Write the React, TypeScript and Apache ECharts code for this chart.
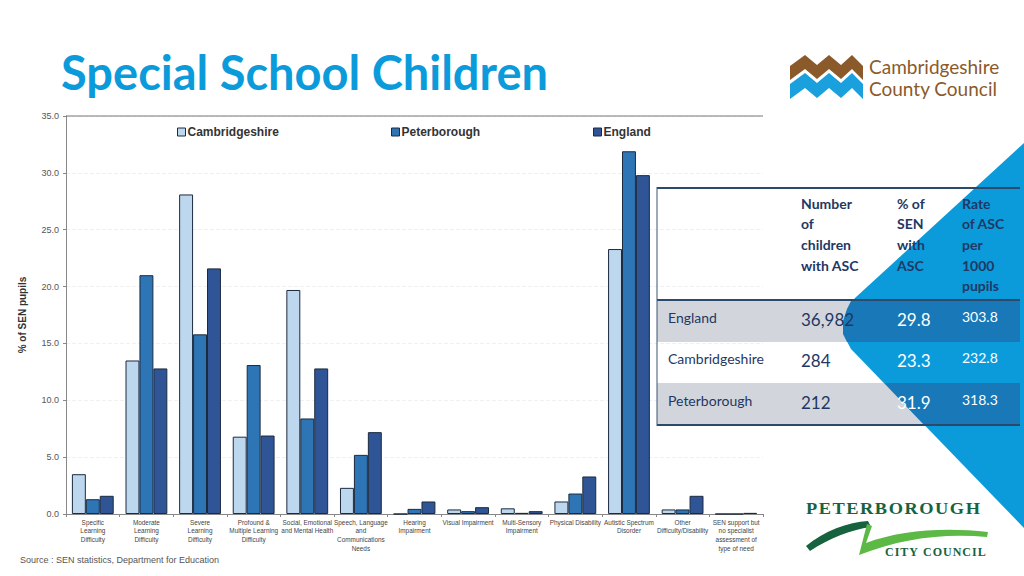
import React, { useEffect, useRef } from "react";
import * as echarts from "echarts";

const categories = [
  "Specific\nLearning\nDifficulty",
  "Moderate\nLearning\nDifficulty",
  "Severe\nLearning\nDifficulty",
  "Profound &\nMultiple Learning\nDifficulty",
  "Social, Emotional\nand Mental Health",
  "Speech, Language\nand\nCommunications\nNeeds",
  "Hearing\nImpairment",
  "Visual Impairment",
  "Multi-Sensory\nImpairment",
  "Physical Disability",
  "Autistic Spectrum\nDisorder",
  "Other\nDifficulty/Disability",
  "SEN support but\nno specialist\nassessment of\ntype of need",
];
const cambridgeshire = [3.5, 13.5, 28.1, 6.8, 19.7, 2.3, 0, 0.4, 0.5, 1.1, 23.3, 0.4, 0];
const peterborough = [1.3, 21.0, 15.8, 13.1, 8.4, 5.2, 0.45, 0.25, 0.1, 1.8, 31.9, 0.4, 0];
const england = [1.6, 12.8, 21.6, 6.9, 12.8, 7.2, 1.1, 0.6, 0.25, 3.3, 29.8, 1.6, 0.1];
const seriesNames = ["Cambridgeshire", "Peterborough", "England"];

const tableHeaders = [
  ["Number", "of", "children", "with ASC"],
  ["% of", "SEN", "with", "ASC"],
  ["Rate", "of ASC", "per", "1000", "pupils"],
];
const tableRows = ["England", "Cambridgeshire", "Peterborough"];
const tableNumbers = ["36,982", "284", "212"];
const tablePercents = ["29.8", "23.3", "31.9"];
const tableRates = ["303.8", "232.8", "318.3"];

const SANS = '"Liberation Sans", Arial, sans-serif';
const CAL = 'Lato, "Open Sans", sans-serif';
const SERIF = '"Liberation Serif", "DejaVu Serif", serif';
const NAVY = "#1f3864";

echarts.graphic.registerShape(
  "swooshDark",
  echarts.graphic.extendPath(
    "M806,546 C824,531 848,522 868,521 L871,527 C850,530 830,538 810,551 Z",
    {}
  )
);
echarts.graphic.registerShape(
  "swooshLight",
  echarts.graphic.extendPath(
    "M867,524 L872,526 L866,543 C900,530 945,527 988,532 L987,537 C945,533 902,538 859,555 Z",
    {}
  )
);

function text(x: number, y: number, t: string, font: string, fill: string, align = "left", extra: any = {}) {
  return {
    type: "text",
    z: 20,
    style: {
      x,
      y,
      text: t,
      font,
      fill,
      textAlign: align,
      align,
      textVerticalAlign: "middle",
      verticalAlign: "middle",
    },
    ...extra,
  };
}

function spaced(s: string, sep: string) {
  return s.split("").join(sep);
}

export default function App() {
  const ref = useRef<HTMLDivElement>(null);
  useEffect(() => {
    if (!ref.current) return;
    const chart = echarts.init(ref.current, undefined, { renderer: "svg" });

    const graphics: any[] = [];
    // Blue decorative shape
    graphics.push({
      type: "polygon",
      z: 1,
      shape: {
        points: [
          [1024, 143], [855, 298], [847, 309], [843, 321], [843, 334], [851, 349], [1024, 528],
        ],
      },
      style: { fill: "#0b9bdb" },
    });
    // gray rows
    graphics.push({ type: "rect", z: 2, shape: { x: 657, y: 301, width: 363, height: 41 }, style: { fill: "#d2d6dc" } });
    graphics.push({ type: "rect", z: 2, shape: { x: 657, y: 383, width: 363, height: 42 }, style: { fill: "#d2d6dc" } });
    // darker intersections
    graphics.push({
      type: "polygon",
      z: 3,
      shape: { points: [[851, 301], [847, 309], [843, 321], [843, 334], [847, 342], [1020, 342], [1020, 301]] },
      style: { fill: "#1878b8" },
    });
    graphics.push({
      type: "polygon",
      z: 3,
      shape: { points: [[884, 383], [924, 425], [1020, 425], [1020, 383]] },
      style: { fill: "#1878b8" },
    });
    // table lines
    const lineStyle = { stroke: "#2b4a6b", lineWidth: 2 };
    graphics.push({ type: "line", z: 4, shape: { x1: 657, y1: 188, x2: 1020, y2: 188 }, style: lineStyle });
    graphics.push({ type: "line", z: 4, shape: { x1: 657, y1: 300, x2: 1020, y2: 300 }, style: lineStyle });
    graphics.push({ type: "line", z: 4, shape: { x1: 657, y1: 425, x2: 1020, y2: 425 }, style: lineStyle });
    graphics.push({ type: "line", z: 4, shape: { x1: 657, y1: 187, x2: 657, y2: 426 }, style: { stroke: "#3a5572", lineWidth: 1 } });

    // table header text
    const headerX = [801, 897, 962];
    tableHeaders.forEach((lines, i) => {
      lines.forEach((l, j) => {
        graphics.push(text(headerX[i], 203 + j * 20.7, l, `bold 14px ${CAL}`, NAVY));
      });
    });
    const rowY = [318, 359, 401];
    tableRows.forEach((r, i) => {
      graphics.push(text(668, rowY[i] - 1, r, `14px ${CAL}`, NAVY));
      graphics.push(text(801, rowY[i] + 1, tableNumbers[i], `17px ${CAL}`, NAVY));
      graphics.push(text(897, rowY[i] + 1, tablePercents[i], `17px ${CAL}`, "#ffffff"));
      graphics.push(text(962, rowY[i] - 2, tableRates[i], `14px ${CAL}`, "#ffffff"));
    });

    // Title
    graphics.push(text(61, 72, "Special School Children", `bold 47px ${CAL}`, "#0b9bdb"));

    // Source
    graphics.push(text(20, 560, "Source : SEN statistics, Department for Education", `9px ${SANS}`, "#555555"));

    // Top border line of chart
    graphics.push({ type: "line", z: 5, shape: { x1: 66, y1: 116, x2: 763, y2: 116 }, style: { stroke: "#777777", lineWidth: 1 } });

    // Cambridgeshire County Council logo
    const brownTop = [[790, 66], [805, 55], [817, 65], [829, 55], [841, 65], [852, 55], [863, 66]];
    const brownPts = brownTop.concat(brownTop.slice().reverse().map((p) => [p[0], p[1] + 14]));
    graphics.push({ type: "polygon", z: 5, shape: { points: brownPts }, style: { fill: "#8a5a2b" } });
    const blueTop = brownTop.map((p) => [p[0], p[1] + 18]);
    const bluePts = blueTop.concat(blueTop.slice().reverse().map((p) => [p[0], p[1] + 15]));
    graphics.push({ type: "polygon", z: 5, shape: { points: bluePts }, style: { fill: "#1aa0dc" } });
    graphics.push(text(869, 66, "Cambridgeshire", `19px ${CAL}`, "#8a5a2b"));
    graphics.push(text(869, 88, "County Council", `19px ${CAL}`, "#8a5a2b"));

    // Peterborough City Council logo
    graphics.push({
      type: "text",
      z: 5,
      x: 806,
      y: 508,
      scaleX: 1.08,
      style: {
        x: 0, y: 0, text: spaced("PETERBOROUGH", "\u200A"),
        font: `bold 17px ${SERIF}`, fill: "#17633f",
        verticalAlign: "middle", textVerticalAlign: "middle",
      },
    });
    graphics.push({ type: "swooshDark", z: 5, style: { fill: "#17633f" } });
    graphics.push({ type: "swooshLight", z: 5, style: { fill: "#5cb946" } });
    graphics.push({
      type: "text",
      z: 5,
      x: 885,
      y: 552,
      style: {
        x: 0, y: 0, text: spaced("CITY COUNCIL", "\u200A"),
        font: `bold 12px ${SERIF}`, fill: "#17633f",
        verticalAlign: "middle", textVerticalAlign: "middle",
      },
    });

    const colors = ["#bdd7ee", "#2e75b6", "#2f5597"];
    const datas = [cambridgeshire, peterborough, england];
    const legendLeft = [177, 391, 593];

    chart.setOption({
      animation: false,
      grid: { left: 66, right: 261, top: 116, bottom: 62 },
      legend: seriesNames.map((n, i) => ({
        data: [n],
        left: legendLeft[i],
        top: 126,
        icon: "rect",
        itemWidth: 8,
        itemHeight: 8,
        itemGap: 4,
        padding: 0,
        textStyle: { fontFamily: SANS, fontWeight: "bold", fontSize: 12, color: "#333333", padding: [0, 0, 0, -3] },
        itemStyle: { borderColor: "#1c2a3f", borderWidth: 1 },
      })),
      xAxis: {
        type: "category",
        data: categories,
        axisLine: { lineStyle: { color: "#888888" } },
        axisTick: { show: true, length: 3, lineStyle: { color: "#888888" } },
        axisLabel: {
          interval: 0,
          fontFamily: SANS,
          fontSize: 6.4,
          lineHeight: 8.6,
          color: "#444444",
          margin: 4,
        },
      },
      yAxis: {
        type: "value",
        min: 0,
        max: 35,
        interval: 5,
        name: "% of SEN pupils",
        nameLocation: "middle",
        nameGap: 39,
        nameTextStyle: { fontFamily: SANS, fontWeight: "bold", fontSize: 10, color: "#333333" },
        axisLine: { show: true, lineStyle: { color: "#888888" } },
        axisTick: { show: true, length: 3, lineStyle: { color: "#888888" } },
        axisLabel: {
          formatter: (v: number) => v.toFixed(1),
          fontFamily: SANS,
          fontSize: 9,
          color: "#555555",
          margin: 7,
        },
        splitLine: { show: true, lineStyle: { color: "#f0f0f0", type: "dashed" } },
      },
      series: seriesNames.map((n, i) => ({
        name: n,
        type: "bar",
        data: datas[i],
        barGap: "0%",
        barCategoryGap: "22%",
        itemStyle: { color: colors[i], borderColor: "#1c2a3f", borderWidth: 1 },
      })),
      graphic: { elements: graphics },
    });
    return () => chart.dispose();
  }, []);
  return (
    <div
      ref={ref}
      style={{ position: "fixed", left: 0, top: 0, width: 1024, height: 576, background: "#ffffff" }}
    />
  );
}
